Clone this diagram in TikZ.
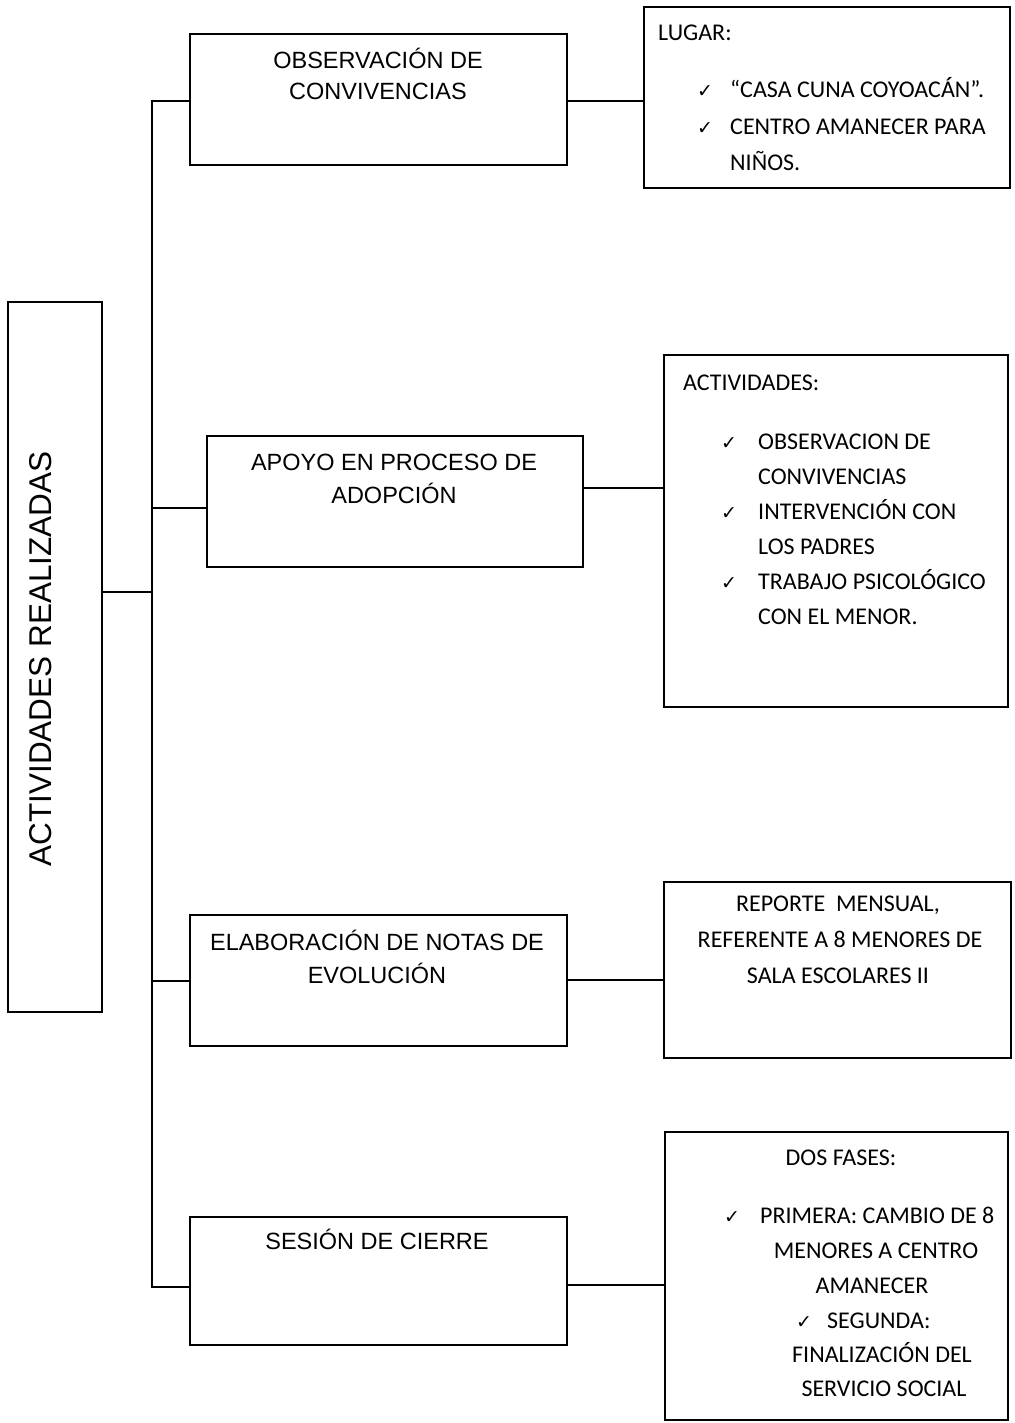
\documentclass[tikz,border=0pt]{standalone}
\usepackage{fontspec}
\setmainfont{Liberation Sans}
\newfontfamily\carl{Carlito}
\newfontfamily\dejavu{DejaVu Sans}
\begin{document}
\begin{tikzpicture}[x=1pt,y=-1pt,
  box/.style={draw, line width=2pt, inner sep=0pt, rectangle},
  ltxt/.style={inner sep=0pt, anchor=base, font=\fontsize{23.5}{28}\selectfont},
  rtxt/.style={inner sep=0pt, font=\carl\fontsize{24}{28}\selectfont},
  chk/.style={inner sep=0pt, anchor=base west, font=\dejavu\fontsize{19}{22}\selectfont},
  conn/.style={line width=2pt}]
\useasboundingbox (0,0) rectangle (1014,1423);
\fill[white] (0,0) rectangle (1014,1423);

% main box
\node[box, minimum width=94pt, minimum height=710pt] (main) at (55,657) {};
\node[inner sep=0pt, rotate=90, font=\fontsize{31.5}{36}\selectfont] (maint) at (41,659) {ACTIVIDADES REALIZADAS};

% left boxes
\node[box, minimum width=377pt, minimum height=131pt] (b1) at (378.5,99.5) {};
\node[box, minimum width=376pt, minimum height=131pt] (b2) at (395,501.5) {};
\node[box, minimum width=377pt, minimum height=131pt] (b3) at (378.5,980.5) {};
\node[box, minimum width=377pt, minimum height=128pt] (b4) at (378.5,1281) {};

\node[ltxt] (b1a) at (378,68.5) {OBSERVACIÓN DE};
\node[ltxt] (b1b) at (378,99.5) {CONVIVENCIAS};
\node[ltxt] (b2a) at (394,470) {APOYO EN PROCESO DE};
\node[ltxt] (b2b) at (394,503) {ADOPCIÓN};
\node[ltxt] (b3a) at (377,950) {ELABORACIÓN DE NOTAS DE};
\node[ltxt] (b3b) at (377,983) {EVOLUCIÓN};
\node[ltxt] (b4a) at (377,1249) {SESIÓN DE CIERRE};

% right boxes
\node[box, minimum width=366pt, minimum height=181pt] (r1) at (827,97.5) {};
\node[box, minimum width=344pt, minimum height=352pt] (r2) at (836,531) {};
\node[box, minimum width=347pt, minimum height=176pt] (r3) at (837.5,970) {};
\node[box, minimum width=343pt, minimum height=288pt] (r4) at (836.5,1276) {};

% r1 text
\node[rtxt, anchor=base west] (r1h) at (658,40.5) {LUGAR:};
\node[chk] (r1c1) at (697,97.5) {✓};
\node[rtxt, anchor=base west] (r1a) at (730,97.5) {“CASA CUNA COYOACÁN”.};
\node[chk] (r1c2) at (697,134.5) {✓};
\node[rtxt, anchor=base west] (r1b) at (730,134.5) {CENTRO AMANECER PARA};
\node[rtxt, anchor=base west] (r1d) at (730,170.5) {NIÑOS.};

% r2 text
\node[rtxt, anchor=base west] (r2h) at (683,390.5) {ACTIVIDADES:};
\node[chk] (r2c1) at (721,449) {✓};
\node[rtxt, anchor=base west] (r2a) at (758,449) {OBSERVACION DE};
\node[rtxt, anchor=base west] (r2b) at (758,484) {CONVIVENCIAS};
\node[chk] (r2c2) at (721,519) {✓};
\node[rtxt, anchor=base west] (r2d) at (758,519) {INTERVENCIÓN CON};
\node[rtxt, anchor=base west] (r2e) at (758,554) {LOS PADRES};
\node[chk] (r2c3) at (721,589) {✓};
\node[rtxt, anchor=base west] (r2f) at (758,589) {TRABAJO PSICOLÓGICO};
\node[rtxt, anchor=base west] (r2g) at (758,624) {CON EL MENOR.};

% r3 text
\node[rtxt, anchor=base] (r3a) at (838,911) {REPORTE\ \ MENSUAL,};
\node[rtxt, anchor=base] (r3b) at (840,947) {REFERENTE A 8 MENORES DE};
\node[rtxt, anchor=base] (r3d) at (838,983) {SALA ESCOLARES II};

% r4 text
\node[rtxt, anchor=base] (r4h) at (841,1165.5) {DOS FASES:};
\node[chk] (r4c1) at (724,1223) {✓};
\node[rtxt, anchor=base west] (r4a) at (760,1223) {PRIMERA: CAMBIO DE 8};
\node[rtxt, anchor=base] (r4b) at (876,1258) {MENORES A CENTRO};
\node[rtxt, anchor=base] (r4d) at (872,1293) {AMANECER};
\node[chk] (r4c2) at (796,1328) {✓};
\node[rtxt, anchor=base west] (r4e) at (827,1328) {SEGUNDA:};
\node[rtxt, anchor=base] (r4f) at (882,1362) {FINALIZACIÓN DEL};
\node[rtxt, anchor=base] (r4g) at (884,1396) {SERVICIO SOCIAL};

% connector coordinates
\coordinate (T1) at (152,101);
\coordinate (T2) at (152,508);
\coordinate (T3) at (152,981);
\coordinate (T4) at (152,1287);
\coordinate (M) at (152,592);
\coordinate (y1) at (0,101);
\coordinate (y2) at (0,488);
\coordinate (y3) at (0,980);
\coordinate (y4) at (0,1285);

% trunk and branches
\draw[conn, line join=miter] (b1.west |- T1) -- (T1) -- (T4) -- (b4.west |- T4);
\draw[conn] (T2) -- (b2.west |- T2);
\draw[conn] (T3) -- (b3.west |- T3);
\draw[conn] (main.east |- M) -- (M);

% right connectors
\draw[conn] (b1.east |- y1) -- (r1.west |- y1);
\draw[conn] (b2.east |- y2) -- (r2.west |- y2);
\draw[conn] (b3.east |- y3) -- (r3.west |- y3);
\draw[conn] (b4.east |- y4) -- (r4.west |- y4);
\end{tikzpicture}
\end{document}
